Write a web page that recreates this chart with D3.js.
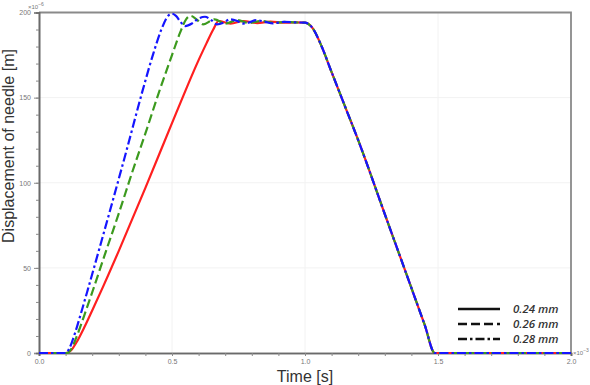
<!DOCTYPE html>
<html>
<head>
<meta charset="utf-8">
<script src="https://cdn.jsdelivr.net/npm/d3@7"></script>
<style>
  body { margin: 0; background: #fff; }
  svg { display: block; }
</style>
</head>
<body>
<div id="chart"></div>
<script>
// time in 1e-3 s, displacement in 1e-6 m
var descentT = [1.0, 1.03, 1.06, 1.1, 1.15, 1.2, 1.3, 1.4, 1.45, 1.488, 1.6, 1.8, 2.0];
var descentV = [194, 190.5, 181, 165, 145, 125, 81.6, 38.2, 16.5, 0, 0, 0, 0];

var redT = [0, 0.1, 0.12, 0.14, 0.17, 0.2, 0.241, 0.3, 0.4, 0.5, 0.553, 0.6, 0.63, 0.655, 0.675,
            0.72, 0.77, 0.82, 0.87, 0.92, 0.96];
var redV = [0, 0, 1.5, 6, 15, 25, 39, 60, 97, 135, 155, 172, 182, 190, 195,
            193.5, 195, 193.8, 194.6, 194, 194.2];

var greenT = [0, 0.105, 0.12, 0.14, 0.17, 0.203, 0.25, 0.3, 0.35, 0.4, 0.455, 0.5, 0.53, 0.553,
              0.57, 0.592, 0.617, 0.66, 0.70, 0.745, 0.79, 0.835, 0.88, 0.93, 0.96];
var greenV = [0, 0, 2, 9, 22, 37, 59, 82, 106, 129, 155, 175, 188, 196,
              198, 196, 193, 196, 193.5, 195.5, 193.8, 195, 194, 194.5, 194.2];

var blueT = [0, 0.1, 0.115, 0.135, 0.16, 0.184, 0.23, 0.28, 0.33, 0.391, 0.43, 0.46, 0.485, 0.5,
             0.515, 0.532, 0.55, 0.575, 0.6, 0.624, 0.648, 0.669, 0.694, 0.718, 0.743, 0.767,
             0.792, 0.816, 0.85, 0.88, 0.92, 0.96];
var blueV = [0, 0, 3, 11.5, 24.5, 37.5, 63, 91, 119.5, 155, 176, 190, 198, 199.3,
             198, 194.5, 192, 193.5, 196.5, 197.5, 195.5, 193, 194, 196, 195.2, 193.5,
             194.2, 195.5, 194.5, 193.6, 194.5, 194.2];

var seriesNames = ['0.24 mm', '0.26 mm', '0.28 mm'];
var seriesColors = ['#ff1f1f', '#3c9a1e', '#1515ff'];
var seriesDash = [null, '9,4', '9,3,2.5,3'];

var xTicks = [0.0, 0.5, 1.0, 1.5, 2.0];
var yTicks = [0, 50, 100, 150, 200];

var width = 590, height = 385;
var margin = {top: 12.5, right: 19, bottom: 32, left: 39};

var svg = d3.select('#chart').append('svg')
    .attr('width', width)
    .attr('height', height)
    .attr('font-family', 'Liberation Sans, Arial, sans-serif');

var x = d3.scaleLinear().domain([0, 2]).range([margin.left, width - margin.right]);
var y = d3.scaleLinear().domain([0, 200]).range([height - margin.bottom, margin.top]);

function pairs(ts, vs) {
    return ts.map(function(t, i) { return [t, vs[i]]; });
}
var series = [
    pairs(redT, redV).concat(pairs(descentT, descentV)),
    pairs(greenT, greenV).concat(pairs(descentT, descentV)),
    pairs(blueT, blueV).concat(pairs(descentT, descentV))
];

// faint grid
var grid = svg.append('g').attr('stroke', '#f2f2f2').attr('stroke-width', 1);
grid.selectAll('line.gx').data(xTicks.slice(1, -1)).enter().append('line')
    .attr('x1', d => x(d)).attr('x2', d => x(d))
    .attr('y1', y(200)).attr('y2', y(0));
grid.selectAll('line.gy').data(yTicks.slice(1, -1)).enter().append('line')
    .attr('x1', x(0)).attr('x2', x(2))
    .attr('y1', d => y(d)).attr('y2', d => y(d));

// frame top/right
svg.append('path')
    .attr('d', 'M' + x(0) + ',' + y(200) + 'H' + x(2) + 'V' + y(0))
    .attr('fill', 'none').attr('stroke', '#8a8a8a').attr('stroke-width', 1.8);

// axes
var xAxis = svg.append('g')
    .attr('transform', 'translate(0,' + y(0) + ')')
    .call(d3.axisBottom(x).tickValues(xTicks).tickFormat(d3.format('.1f')).tickSize(3).tickPadding(3));
var xMinor = svg.append('g')
    .attr('transform', 'translate(0,' + y(0) + ')')
    .call(d3.axisBottom(x).tickValues(d3.range(0.1, 2, 0.1)).tickFormat('').tickSize(3));
var yAxis = svg.append('g')
    .attr('transform', 'translate(' + x(0) + ',0)')
    .call(d3.axisLeft(y).tickValues(yTicks).tickSize(5).tickPadding(3));
var yMinor = svg.append('g')
    .attr('transform', 'translate(' + x(0) + ',0)')
    .call(d3.axisLeft(y).tickValues(d3.range(10, 200, 10)).tickFormat('').tickSize(3));

[xAxis, xMinor, yAxis, yMinor].forEach(function(g) {
    g.select('.domain').attr('stroke', '#6a6a6a').attr('stroke-width', 1.6);
    g.selectAll('.tick line').attr('stroke', '#8a8a8a');
    g.selectAll('.tick text').attr('fill', '#777').attr('font-size', 7);
});

// exponents
var ex6 = svg.append('text').attr('x', 28).attr('y', 9).attr('font-size', 6).attr('fill', '#777');
ex6.append('tspan').text('\u00d710');
ex6.append('tspan').attr('dy', -3).attr('font-size', 5).text('\u22126');
var ex3 = svg.append('text').attr('x', 573).attr('y', 355).attr('font-size', 6).attr('fill', '#777');
ex3.append('tspan').text('\u00d710');
ex3.append('tspan').attr('dy', -3).attr('font-size', 5).text('\u22123');

// lines
var line = d3.line()
    .x(d => x(d[0]))
    .y(d => y(d[1]))
    .curve(d3.curveMonotoneX);

svg.append('g').selectAll('path')
    .data(series)
    .enter()
    .append('path')
    .attr('d', line)
    .attr('fill', 'none')
    .attr('stroke', (d, i) => seriesColors[i])
    .attr('stroke-width', 2.2)
    .attr('stroke-dasharray', (d, i) => seriesDash[i]);

// axis titles
svg.append('text')
    .attr('x', x(1)).attr('y', 382)
    .attr('text-anchor', 'middle')
    .attr('font-size', 16)
    .attr('fill', '#333')
    .text('Time [s]');
svg.append('text')
    .attr('transform', 'translate(14,146) rotate(-90)')
    .attr('text-anchor', 'middle')
    .attr('font-size', 16)
    .attr('fill', '#333')
    .text('Displacement of needle [m]');

// legend
var legend = svg.append('g').selectAll('g')
    .data(seriesNames)
    .enter()
    .append('g')
    .attr('transform', (d, i) => 'translate(458,' + (309 + i * 15) + ')');
legend.append('line')
    .attr('x1', 0).attr('x2', 42)
    .attr('stroke', '#111')
    .attr('stroke-width', 2.4)
    .attr('stroke-dasharray', (d, i) => seriesDash[i]);
legend.append('text')
    .attr('x', 55).attr('y', 4)
    .attr('font-family', 'Open Sans, sans-serif')
    .attr('font-style', 'italic')
    .attr('font-weight', 600)
    .attr('font-size', 11.5)
    .attr('fill', '#333')
    .text(d => d);
</script>
</body>
</html>
